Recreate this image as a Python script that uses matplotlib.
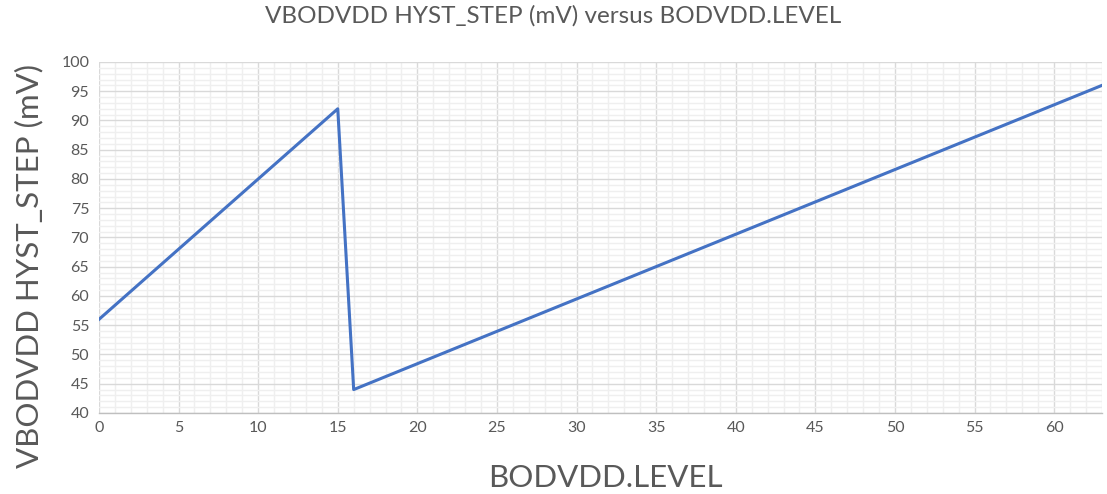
import matplotlib
matplotlib.use("Agg")
import matplotlib.pyplot as plt
from matplotlib.ticker import MultipleLocator

plt.rcParams['font.family'] = ['Lato', 'DejaVu Sans']

# BODVDD.LEVEL breakpoints and hysteresis step (mV)
levels = [0, 15, 16, 63]
hyst_step = [56, 92, 44, 96]

x_ticks = list(range(0, 61, 5))
y_ticks = list(range(40, 101, 5))

fig = plt.figure(figsize=(11.07, 4.94), dpi=100)
ax = fig.add_axes([0.0894, 0.164, 0.906, 0.7105])

ax.plot(levels, hyst_step, color='#4472C4', linewidth=2.2, zorder=3)

ax.set_xlim(0, 63)
ax.set_ylim(40, 100)
ax.set_xticks(x_ticks)
ax.set_yticks(y_ticks)
ax.xaxis.set_minor_locator(MultipleLocator(1))
ax.yaxis.set_minor_locator(MultipleLocator(1))

ax.grid(which='major', color='#d9d9d9', linewidth=1.0)
ax.grid(which='minor', color='#efefef', linewidth=1.0)
ax.set_axisbelow(True)

for side in ['top', 'right', 'left']:
    ax.spines[side].set_visible(False)
ax.spines['bottom'].set_color('#bfbfbf')
ax.spines['bottom'].set_linewidth(1.0)

ax.tick_params(which='both', length=0, colors='#595959', labelsize=11.5)
ax.tick_params(axis='x', pad=6)
ax.tick_params(axis='y', pad=7)

ax.set_xlabel('BODVDD.LEVEL', fontsize=22.5, color='#595959')
ax.set_ylabel('VBODVDD HYST_STEP (mV)', fontsize=22.5, color='#595959')
ax.xaxis.set_label_coords(0.505, -0.145)
ax.yaxis.set_label_coords(-0.055, 0.42)
fig.suptitle('VBODVDD HYST_STEP (mV) versus BODVDD.LEVEL', fontsize=17.5,
             color='#595959', y=0.99)

fig.savefig('out.png', dpi=100)
